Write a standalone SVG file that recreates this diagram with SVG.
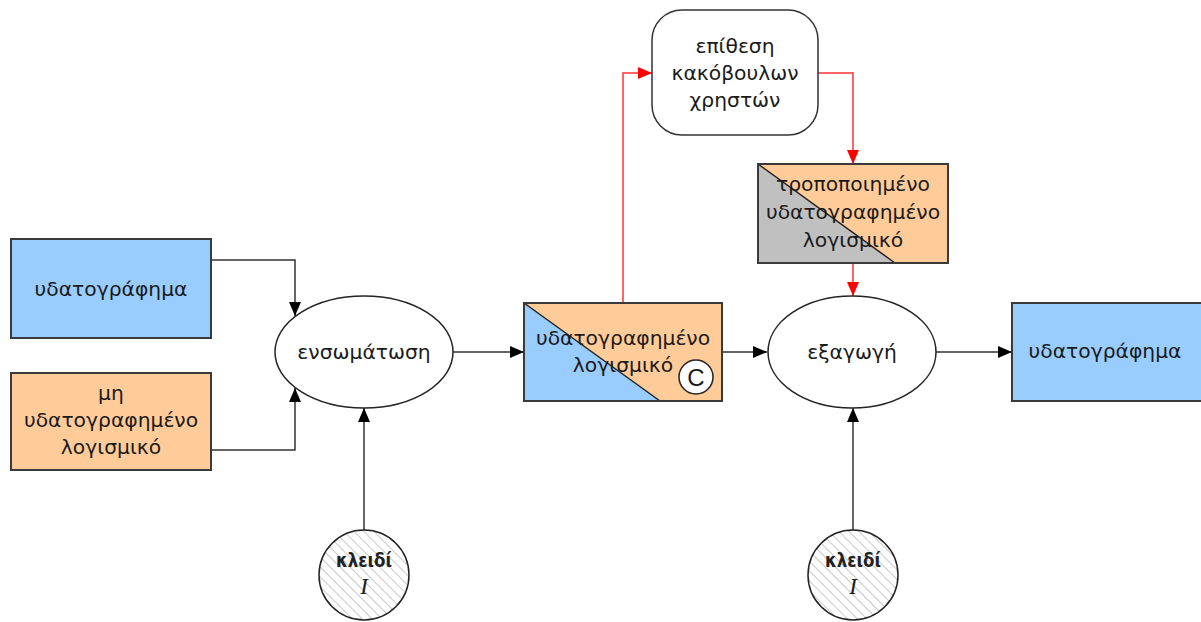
<svg xmlns="http://www.w3.org/2000/svg" width="1201" height="622" viewBox="0 0 1201 622">
  <style>
    .box { stroke: #3a3a3a; stroke-width: 2; }
    .blue { fill: #99ccff; }
    .orange { fill: #ffcc99; }
    .grey { fill: #c0c0c0; }
    .ell { fill: #ffffff; stroke: #222; stroke-width: 1.5; }
    .lbl { font-family: "DejaVu Sans", "Noto Sans", sans-serif; font-size: 20.3px; fill: #1a1a1a; text-anchor: middle; }
    .key { font-family: "DejaVu Sans", "Noto Sans", sans-serif; font-weight: bold; font-size: 18.5px; fill: #222; text-anchor: middle; }
    .keyI { font-family: "Liberation Serif", serif; font-style: italic; font-size: 23px; fill: #1a1a1a; text-anchor: middle; }
    .blk { fill: none; stroke: #333; stroke-width: 1.5; }
    .red { fill: none; stroke: #ff3030; stroke-width: 1.5; }
  </style>
  <defs>
    <marker id="arrowBlack" viewBox="0 0 14 12" refX="14" refY="6" markerWidth="14" markerHeight="12" markerUnits="userSpaceOnUse" orient="auto">
      <path d="M0,0 L14,6 L0,12 Z" fill="#000"/>
    </marker>
    <marker id="arrowRed" viewBox="0 0 14 12" refX="14" refY="6" markerWidth="14" markerHeight="12" markerUnits="userSpaceOnUse" orient="auto">
      <path d="M0,0 L14,6 L0,12 Z" fill="#ff0000"/>
    </marker>
    <pattern id="hatch" width="7" height="7" patternUnits="userSpaceOnUse" patternTransform="rotate(-45)">
      <rect width="7" height="7" fill="#ffffff"/>
      <line x1="0" y1="0" x2="0" y2="7" stroke="#c8c8c8" stroke-width="2"/>
    </pattern>
  </defs>

  <!-- connectors -->
  <g id="connectors">
    <polyline class="blk" points="211,260 295,260 295,316" marker-end="url(#arrowBlack)"/>
    <polyline class="blk" points="211,450 295,450 295,388" marker-end="url(#arrowBlack)"/>
    <line class="blk" x1="364" y1="530" x2="364" y2="408" marker-end="url(#arrowBlack)"/>
    <line class="blk" x1="453" y1="352" x2="524" y2="352" marker-end="url(#arrowBlack)"/>
    <line class="blk" x1="722" y1="352" x2="767" y2="352" marker-end="url(#arrowBlack)"/>
    <line class="blk" x1="853" y1="530" x2="853" y2="408" marker-end="url(#arrowBlack)"/>
    <line class="blk" x1="936" y1="352" x2="1012" y2="352" marker-end="url(#arrowBlack)"/>
    <polyline class="red" points="623,303 623,73 652,73" marker-end="url(#arrowRed)"/>
    <polyline class="red" points="818,73 853,73 853,164" marker-end="url(#arrowRed)"/>
    <line class="red" x1="853" y1="263" x2="853" y2="296" marker-end="url(#arrowRed)"/>
  </g>

  <!-- watermark input -->
  <g id="watermark-in">
    <rect class="box blue" x="11" y="239" width="200" height="99"/>
    <text class="lbl" x="111" y="296">υδατογράφημα</text>
  </g>

  <!-- unwatermarked software -->
  <g id="software-in">
    <rect class="box orange" x="11" y="373" width="200" height="97"/>
    <text class="lbl" x="111" y="400">μη</text>
    <text class="lbl" x="111" y="427">υδατογραφημένο</text>
    <text class="lbl" x="111" y="454">λογισμικό</text>
  </g>

  <!-- embedding -->
  <g id="embed">
    <ellipse class="ell" cx="364" cy="352" rx="89" ry="56"/>
    <text class="lbl" x="364" y="359">ενσωμάτωση</text>
  </g>

  <!-- key for embedding -->
  <g id="key-embed">
    <circle cx="364" cy="575" r="45" fill="url(#hatch)" stroke="#222" stroke-width="1.5"/>
    <text class="key" x="364" y="567" textLength="56" lengthAdjust="spacingAndGlyphs">κλειδί</text>
    <text class="keyI" x="364" y="594">I</text>
  </g>

  <!-- watermarked software -->
  <g id="software-wm">
    <rect class="orange" x="524" y="303" width="198" height="98"/>
    <polygon class="blue" points="524,303 660,401 524,401"/>
    <line x1="524" y1="303" x2="660" y2="401" stroke="#222" stroke-width="1.5"/>
    <rect class="box" x="524" y="303" width="198" height="98" fill="none"/>
    <text class="lbl" x="623" y="345">υδατογραφημένο</text>
    <text class="lbl" x="623" y="372">λογισμικό</text>
    <circle cx="696" cy="377" r="17" fill="#fff" stroke="#222" stroke-width="1.5"/>
    <text x="696" y="385.5" font-family="Liberation Sans, sans-serif" font-size="24" fill="#1a1a1a" text-anchor="middle">C</text>
  </g>

  <!-- attack -->
  <g id="attack">
    <rect x="652" y="10" width="166" height="125" rx="30" ry="30" fill="#fff" stroke="#333" stroke-width="1.5"/>
    <text class="lbl" x="735" y="53">επίθεση</text>
    <text class="lbl" x="735" y="80">κακόβουλων</text>
    <text class="lbl" x="735" y="107">χρηστών</text>
  </g>

  <!-- modified software -->
  <g id="software-mod">
    <rect class="orange" x="758" y="164" width="190" height="99"/>
    <polygon class="grey" points="758,164 895,263 758,263"/>
    <line x1="758" y1="164" x2="895" y2="263" stroke="#222" stroke-width="1.5"/>
    <rect class="box" x="758" y="164" width="190" height="99" fill="none"/>
    <text class="lbl" x="853" y="191">τροποποιημένο</text>
    <text class="lbl" x="853" y="219">υδατογραφημένο</text>
    <text class="lbl" x="853" y="247">λογισμικό</text>
  </g>

  <!-- extraction -->
  <g id="extract">
    <ellipse class="ell" cx="852" cy="352" rx="84" ry="56"/>
    <text class="lbl" x="852" y="359">εξαγωγή</text>
  </g>

  <!-- key for extraction -->
  <g id="key-extract">
    <circle cx="853" cy="575" r="45" fill="url(#hatch)" stroke="#222" stroke-width="1.5"/>
    <text class="key" x="853" y="567" textLength="56" lengthAdjust="spacingAndGlyphs">κλειδί</text>
    <text class="keyI" x="853" y="594">I</text>
  </g>

  <!-- watermark output -->
  <g id="watermark-out">
    <rect class="box blue" x="1012" y="303" width="200" height="98"/>
    <text class="lbl" x="1105" y="358">υδατογράφημα</text>
  </g>
</svg>
